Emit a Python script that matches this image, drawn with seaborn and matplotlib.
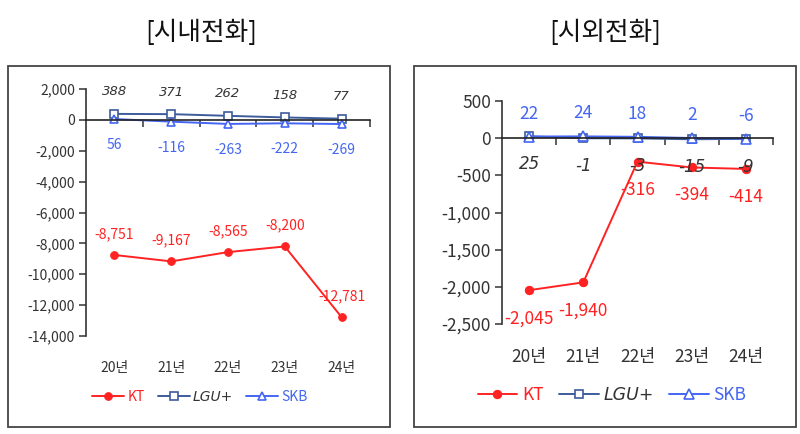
import matplotlib
matplotlib.use("Agg")
import matplotlib.pyplot as plt
import matplotlib.ticker as mticker
from matplotlib.patches import Rectangle
import seaborn as sns
import pandas as pd

years = ["20년", "21년", "22년", "23년", "24년"]

# 시내전화
local_kt = [-8751, -9167, -8565, -8200, -12781]
local_lgu = [388, 371, 262, 158, 77]
local_skb = [56, -116, -263, -222, -269]

# 시외전화
toll_kt = [-2045, -1940, -316, -394, -414]
toll_lgu = [25, -1, -3, -15, -9]
toll_skb = [22, 24, 18, 2, -6]

sns.set_style("white")
plt.rcParams['font.family'] = ['Noto Sans CJK KR', 'DejaVu Sans']
plt.rcParams['axes.unicode_minus'] = False

RED = '#FF2222'
NAVY = '#3D5C9C'
BLUE = '#4466F2'
GREY = '#333333'
ITALIC = ['DejaVu Sans']  # the CJK family has no italic face

fig = plt.figure(figsize=(8, 4.34), dpi=100)

# panel frames
fig.add_artist(Rectangle((8/800, 1-427/434), 382/800, 361/434, transform=fig.transFigure,
                         fill=False, edgecolor='#444444', lw=1.3))
fig.add_artist(Rectangle((414/800, 1-427/434), 382/800, 361/434, transform=fig.transFigure,
                         fill=False, edgecolor='#444444', lw=1.3))

fig.text(201/800, 1-33/434, "[시내전화]", ha='center', va='center', fontsize=18.5, color='#111111')
fig.text(605/800, 1-33/434, "[시외전화]", ha='center', va='center', fontsize=18.5, color='#111111')

ax1 = fig.add_axes([86/800, 1-336/434, 284/800, 247/434])
ax2 = fig.add_axes([502/800, 1-324/434, 271/800, 223/434])


def draw(ax, kt, lgu, skb, ylim, ystep, fs, offs, pad, ms, legend_xy):
    df = pd.DataFrame({'year': years, 'KT': kt, 'LGU+': lgu, 'SKB': skb})
    sns.lineplot(data=df, x='year', y='KT', ax=ax, color=RED, marker='o', markersize=ms,
                 markeredgecolor=RED, lw=1.4, label='KT', sort=False)
    sns.lineplot(data=df, x='year', y='LGU+', ax=ax, color=NAVY, marker='s', markersize=ms,
                 markerfacecolor='white', markeredgecolor=NAVY, markeredgewidth=1.2, lw=1.4,
                 label='LGU+', sort=False)
    sns.lineplot(data=df, x='year', y='SKB', ax=ax, color=BLUE, marker='^', markersize=ms + 0.5,
                 markerfacecolor='white', markeredgecolor=BLUE, markeredgewidth=1.2, lw=1.4,
                 label='SKB', sort=False)

    for i in range(len(years)):
        ax.annotate(f"{kt[i]:,}", (i, kt[i]), xytext=(0, offs[0]), textcoords='offset pixels',
                    ha='center', va='center', fontsize=fs, color=RED)
        ax.annotate(f"{lgu[i]:,}", (i, lgu[i]), xytext=(0, offs[1]), textcoords='offset pixels',
                    ha='center', va='center', fontsize=fs - 0.5, color=GREY, style='italic',
                    family=ITALIC)
        ax.annotate(f"{skb[i]:,}", (i, skb[i]), xytext=(0, offs[2]), textcoords='offset pixels',
                    ha='center', va='center', fontsize=fs, color=BLUE)

    ax.set_xlim(-0.5, 4.5)
    ax.set_ylim(*ylim)
    ax.set_yticks(range(ylim[0], ylim[1] + 1, ystep))
    ax.yaxis.set_major_formatter(mticker.FuncFormatter(lambda v, p: f"{v:,.0f}"))
    ax.tick_params(axis='y', length=5, width=1.1, color=GREY, labelsize=fs, labelcolor=GREY,
                   direction='out', left=True, pad=3)
    ax.set_xlabel('')
    ax.set_ylabel('')
    for s in ['top', 'right']:
        ax.spines[s].set_visible(False)
    ax.spines['left'].set_color(GREY)
    ax.spines['left'].set_linewidth(1.2)
    ax.spines['bottom'].set_position(('data', 0))
    ax.spines['bottom'].set_color('#222222')
    ax.spines['bottom'].set_linewidth(1.2)
    ax.set_xticks(range(5))
    ax.set_xticklabels([])
    ax.set_xticks([0.5, 1.5, 2.5, 3.5, 4.5], minor=True)
    ax.tick_params(axis='x', which='major', length=0, bottom=True)
    ax.tick_params(axis='x', which='minor', length=5, width=1.1, color=GREY, direction='out',
                   bottom=True)

    sec = ax.secondary_xaxis('bottom')
    sec.set_xticks(range(5), labels=years)
    sec.spines['bottom'].set_visible(False)
    sec.tick_params(length=0, pad=pad, labelsize=fs, labelcolor=GREY)

    leg = ax.legend(loc='center', bbox_to_anchor=legend_xy, bbox_transform=fig.transFigure,
                    ncol=3, frameon=False, fontsize=fs, handlelength=2.3, handletextpad=0.25,
                    columnspacing=0.9)
    tcol = [RED, GREY, BLUE]
    for t, c in zip(leg.get_texts(), tcol):
        t.set_color(c)
    leg.get_texts()[1].set_style('italic')
    leg.get_texts()[1].set_family(ITALIC)


draw(ax1, local_kt, local_lgu, local_skb, (-14000, 2000), 2000, 10,
     (21, 22, -26), 18, 5.5, (200/800, 1-397/434))
draw(ax2, toll_kt, toll_lgu, toll_skb, (-2500, 500), 500, 12.5,
     (-28, -28, 23), 17, 6, (612/800, 1-395/434))

fig.savefig("out.png", dpi=100)
